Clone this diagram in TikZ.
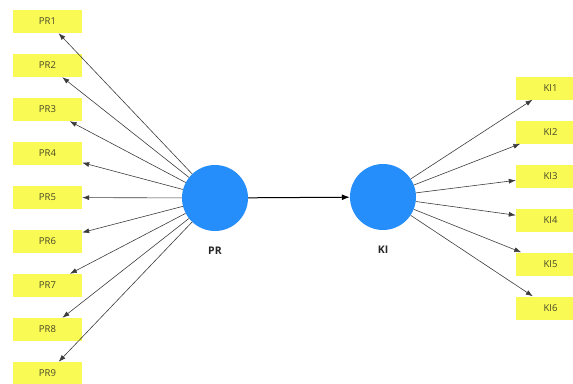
\documentclass[tikz,border=0pt]{standalone}
\usepackage{fontspec}
\setmainfont{Open Sans}
\usepackage{tikz}
\usetikzlibrary{positioning}
\usetikzlibrary{arrows.meta}
\definecolor{lvblue}{RGB}{38,142,250}
\definecolor{mvyellow}{RGB}{250,250,85}
\definecolor{mvtext}{RGB}{70,70,40}
\definecolor{pathgray}{RGB}{60,60,60}
\begin{document}
\begin{tikzpicture}[x=1pt,y=-1pt,
  lv/.style={circle,fill=lvblue,draw=none,minimum size=66pt,inner sep=0pt},
  lvname/.style={font=\fontsize{10.5}{12}\selectfont\bfseries,text=black!85,inner sep=0pt},
  mv/.style={rectangle,fill=mvyellow,draw=none,minimum width=69pt,minimum height=23pt,inner sep=0pt,text=mvtext,font=\fontsize{9.5}{11}\selectfont},
  load/.style={-{Latex[length=7pt,width=5pt]},draw=pathgray,line width=0.6pt},
  inner/.style={-{Latex[length=8pt,width=6pt]},draw=black,line width=1pt}]
    \path[use as bounding box,clip] (0,0) rectangle (573,383);
    % latent variables
    \node[lv] (PR) at (215,198) {};
    \node[lv] (KI) at (383,197) {};
    \node[lvname,below=16pt of PR] (PRname) {PR};
    \node[lvname,below=16pt of KI] (KIname) {KI};
    % indicators of PR
    \node[mv] (PR1) at (47.5,21.5) {PR1};
    \node[mv] (PR2) at (47.5,65.5) {PR2};
    \node[mv] (PR3) at (47.5,109.5) {PR3};
    \node[mv] (PR4) at (47.5,153.5) {PR4};
    \node[mv] (PR5) at (47.5,197.5) {PR5};
    \node[mv] (PR6) at (47.5,241.5) {PR6};
    \node[mv] (PR7) at (47.5,285.5) {PR7};
    \node[mv] (PR8) at (47.5,329.5) {PR8};
    \node[mv] (PR9) at (47.5,373.5) {PR9};
    % indicators of KI
    \node[mv] (KI1) at (550.5,88) {KI1};
    \node[mv] (KI2) at (550.5,132) {KI2};
    \node[mv] (KI3) at (550.5,176) {KI3};
    \node[mv] (KI4) at (550.5,220) {KI4};
    \node[mv] (KI5) at (550.5,264) {KI5};
    \node[mv] (KI6) at (550.5,308) {KI6};
    % outer loadings
    \draw[load] (PR) -- (PR1);
    \draw[load] (PR) -- (PR2);
    \draw[load] (PR) -- (PR3);
    \draw[load] (PR) -- (PR4);
    \draw[load] (PR) -- (PR5);
    \draw[load] (PR) -- (PR6);
    \draw[load] (PR) -- (PR7);
    \draw[load] (PR) -- (PR8);
    \draw[load] (PR) -- (PR9);
    \draw[load] (KI) -- (KI1);
    \draw[load] (KI) -- (KI2);
    \draw[load] (KI) -- (KI3);
    \draw[load] (KI) -- (KI4);
    \draw[load] (KI) -- (KI5);
    \draw[load] (KI) -- (KI6);
    % structural path
    \draw[inner] (PR) -- (KI);
\end{tikzpicture}
\end{document}
